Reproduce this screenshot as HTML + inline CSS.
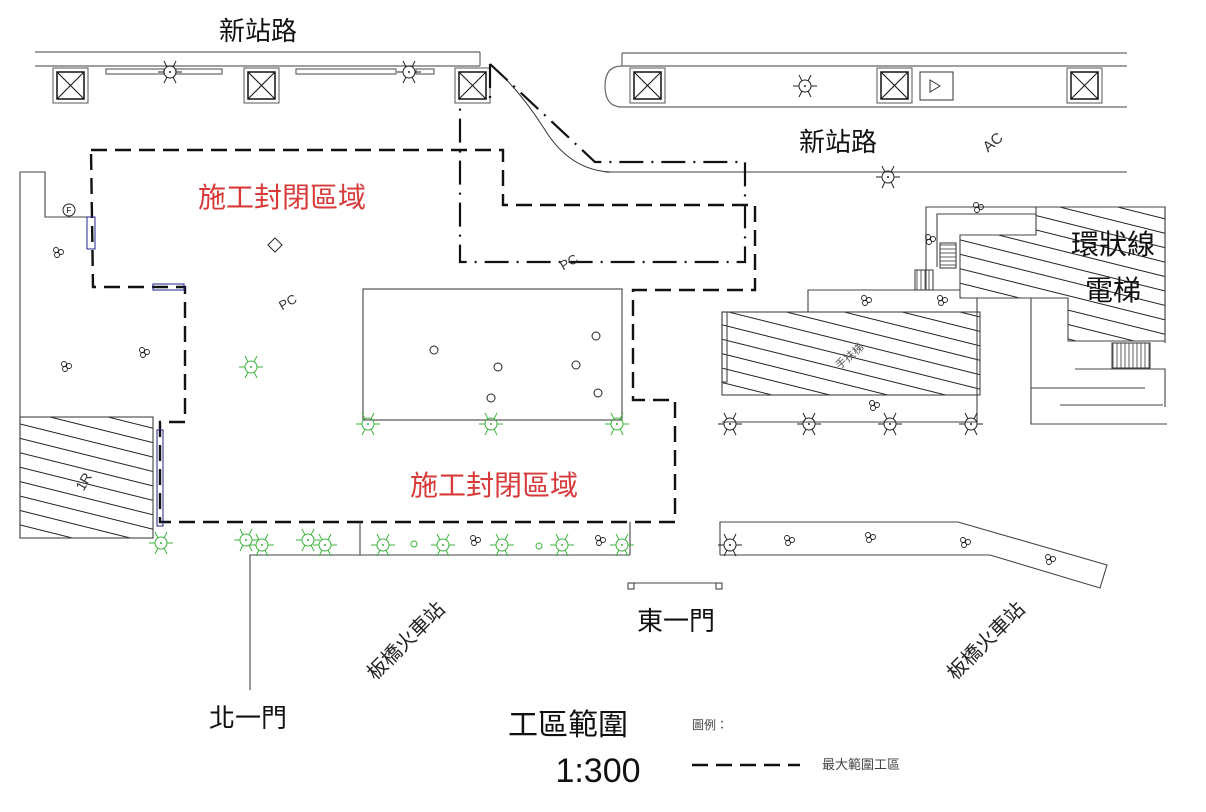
<!DOCTYPE html>
<html><head><meta charset="utf-8"><style>
html,body{margin:0;padding:0;background:#fff;}
svg{display:block;}
text{font-family:"Liberation Sans","Noto Sans CJK TC",sans-serif;}
</style></head><body>
<svg width="1206" height="812" viewBox="0 0 1206 812" xmlns="http://www.w3.org/2000/svg">
<defs>
<pattern id="h" width="14" height="14" patternUnits="userSpaceOnUse" patternTransform="rotate(14)">
<line x1="0" y1="0.5" x2="14" y2="0.5" stroke="#222" stroke-width="1"/>
</pattern>
<pattern id="vs" width="4" height="10" patternUnits="userSpaceOnUse"><line x1="1" y1="0" x2="1" y2="10" stroke="#333" stroke-width="0.8"/></pattern>
<pattern id="hs" width="10" height="4" patternUnits="userSpaceOnUse"><line x1="0" y1="1" x2="10" y2="1" stroke="#333" stroke-width="0.8"/></pattern>
<g id="lk"><circle r="6" fill="none" stroke="currentColor"/><circle r="1" fill="currentColor"/>
<g stroke="currentColor"><line x1="6" y1="0" x2="12" y2="0"/><line x1="-6" y1="0" x2="-12" y2="0"/><line x1="3" y1="-5" x2="6" y2="-11"/><line x1="-3" y1="-5" x2="-6" y2="-11"/><line x1="3" y1="5" x2="6" y2="11"/><line x1="-3" y1="5" x2="-6" y2="11"/></g></g>
<g id="box"><rect x="0" y="0" width="35" height="35" fill="none" stroke="#555"/><rect x="4" y="4" width="27" height="27" fill="none" stroke="#111" stroke-width="1.5"/><line x1="4" y1="4" x2="31" y2="31" stroke="#111"/><line x1="31" y1="4" x2="4" y2="31" stroke="#111"/></g>
<g id="oo" fill="none" stroke="#222" stroke-width="0.9"><circle cx="0" cy="0" r="2.5"/><circle cx="5" cy="2" r="2.5"/><circle cx="1" cy="5" r="2.5"/></g>
</defs>

<g stroke="#666" fill="none" stroke-width="1.2">
<line x1="35" y1="52" x2="480" y2="52"/><line x1="35" y1="66" x2="480" y2="66"/><line x1="480" y1="52" x2="480" y2="66"/>
<rect x="106" y="69" width="58" height="5"/><rect x="176" y="69" width="46" height="5"/><rect x="296" y="69" width="100" height="5"/><rect x="416" y="69" width="18" height="5"/>
<path d="M622 53 H1127 M622 66 H1127 M622 107 H1127 M622 53 V66"/>
<path d="M622 66 Q605 66 605 86 Q605 107 622 107"/>
<path d="M605 172 H1127"/>
</g>
<path d="M490 64 Q520 90 545 130 Q570 170 610 172" fill="none" stroke="#333" stroke-width="1"/>
<use href="#box" x="53" y="68"/><use href="#box" x="244" y="68"/><use href="#box" x="455" y="68"/>
<use href="#box" x="630" y="68"/><use href="#box" x="877" y="68"/><use href="#box" x="1067" y="68"/>
<rect x="920" y="72" width="33" height="28" fill="none" stroke="#333"/><path d="M930 80 L940 86 L930 92 Z" fill="none" stroke="#333"/>
<g color="#222"><use href="#lk" x="170" y="72"/><use href="#lk" x="409" y="72"/><use href="#lk" x="805" y="86"/><use href="#lk" x="888" y="177"/></g>

<path d="M490 64 V103 M490 64 L595 162 H745 V262 H460 V105" fill="none" stroke="#111" stroke-width="2.2" stroke-dasharray="24,8,2,8"/>

<path d="M91 150 H503 V205 H755 V290 H633 V400 H675 V522 H160 V422 H185 V287 H93 Z" fill="none" stroke="#111" stroke-width="2.4" stroke-dasharray="16,8"/>

<g stroke="#444" fill="none" stroke-width="1.1">
<path d="M20 538 V172 H45 V217 H93"/>
<rect x="20" y="417" width="133" height="121" fill="url(#h)"/>
<rect x="363" y="289" width="259" height="131"/>
<path d="M250 690 V555 H630 M360 522 V555 M630 522 V555"/>
<path d="M720 555 V522 H958 L1107 565 L1100 588 L990 555 H720"/>
<path d="M630 583 H720"/><rect x="628" y="583" width="6" height="6"/><rect x="716" y="583" width="6" height="6"/>
</g>
<rect x="87" y="217" width="8" height="32" fill="none" stroke="#22228a"/>
<rect x="153" y="284" width="31" height="6" fill="none" stroke="#22228a"/>
<rect x="157" y="430" width="6" height="96" fill="none" stroke="#22228a"/>
<circle cx="69" cy="210" r="6" fill="none" stroke="#222"/><text x="69" y="213" font-size="8" text-anchor="middle">F</text>
<rect x="270" y="240" width="10" height="10" fill="none" stroke="#222" transform="rotate(45 275 245)"/>

<g stroke="#444" fill="none" stroke-width="1.1">
<path d="M926 290 V207 H1165 V343"/>
<path d="M937 267 V214 H1036"/>
<polygon points="1036,207 1165,207 1165,341 1068,341 1068,298 960,298 960,235 1036,235" fill="url(#h)"/>
<rect x="722" y="312" width="258" height="83" fill="url(#h)"/>
<rect x="722" y="312" width="5" height="70"/>
<path d="M808 312 V290 H960 M977 298 V422 H722 M1031 298 V424 H1167 M1031 388 H1145 M1060 405 H1163 M1075 369 H1165 V407"/>
<rect x="940" y="243" width="16" height="25" fill="url(#hs)"/>
<rect x="915" y="270" width="18" height="20" fill="url(#vs)"/>
<rect x="1112" y="343" width="38" height="25" fill="url(#vs)"/>
</g>
<g color="#222"><use href="#lk" x="730" y="424"/><use href="#lk" x="809" y="424"/><use href="#lk" x="890" y="424"/><use href="#lk" x="971" y="424"/><use href="#lk" x="730" y="545"/></g>

<g color="#3cb43c"><use href="#lk" x="251" y="367"/><use href="#lk" x="368" y="424"/><use href="#lk" x="491" y="424"/><use href="#lk" x="617" y="424"/>
<use href="#lk" x="161" y="543"/><use href="#lk" x="246" y="540"/><use href="#lk" x="262" y="545"/><use href="#lk" x="308" y="540"/><use href="#lk" x="325" y="545"/>
<use href="#lk" x="383" y="545"/><use href="#lk" x="443" y="545"/><use href="#lk" x="502" y="545"/><use href="#lk" x="562" y="545"/><use href="#lk" x="622" y="545"/>
<circle cx="414" cy="544" r="3" fill="none" stroke="currentColor"/><circle cx="539" cy="546" r="3" fill="none" stroke="currentColor"/></g>

<g><use href="#oo" x="56" y="250"/><use href="#oo" x="64" y="364"/><use href="#oo" x="142" y="350"/><use href="#oo" x="598" y="538"/><use href="#oo" x="473" y="538"/>
<use href="#oo" x="787" y="538"/><use href="#oo" x="868" y="535"/><use href="#oo" x="963" y="540"/><use href="#oo" x="1048" y="557"/>
<use href="#oo" x="976" y="205"/><use href="#oo" x="928" y="237"/><use href="#oo" x="864" y="298"/><use href="#oo" x="940" y="298"/><use href="#oo" x="872" y="403"/></g>
<g fill="none" stroke="#222"><circle cx="434" cy="350" r="4"/><circle cx="498" cy="367" r="4"/><circle cx="576" cy="365" r="4"/><circle cx="596" cy="336" r="4"/><circle cx="491" cy="398" r="4"/><circle cx="598" cy="393" r="4"/></g>

<text x="258" y="40" font-size="26" text-anchor="middle" fill="#111">新站路</text>
<text x="838" y="151" font-size="26" text-anchor="middle" fill="#111">新站路</text>
<text x="996" y="146" font-size="15" fill="#333" transform="rotate(-40 996 146)" text-anchor="middle">AC</text>
<text x="290" y="306" font-size="13" fill="#333" transform="rotate(-30 290 306)" text-anchor="middle">PC</text>
<text x="571" y="266" font-size="13" fill="#333" transform="rotate(-30 571 266)" text-anchor="middle">PC</text>
<text x="88" y="484" font-size="14" fill="#333" transform="rotate(-60 88 484)" text-anchor="middle">1R</text>
<text x="852" y="359" font-size="11" fill="#555" transform="rotate(-40 852 359)" text-anchor="middle">手扶梯</text>
<text x="282" y="207" font-size="28" text-anchor="middle" fill="#d83a3a">施工封閉區域</text>
<text x="494" y="495" font-size="28" text-anchor="middle" fill="#d83a3a">施工封閉區域</text>
<text x="1113" y="254" font-size="28" text-anchor="middle" fill="#111">環狀線</text>
<text x="1113" y="300" font-size="28" text-anchor="middle" fill="#111">電梯</text>
<text x="405" y="648" font-size="20" text-anchor="middle" fill="#222" transform="rotate(-45 405 640)">板橋火車站</text>
<text x="985" y="648" font-size="20" text-anchor="middle" fill="#222" transform="rotate(-45 985 640)">板橋火車站</text>
<text x="676" y="630" font-size="26" text-anchor="middle" fill="#111">東一門</text>
<text x="248" y="727" font-size="26" text-anchor="middle" fill="#111">北一門</text>
<text x="568" y="735" font-size="30" text-anchor="middle" fill="#111">工區範圍</text>
<text x="598" y="782" font-size="34" text-anchor="middle" fill="#111">1:300</text>
<text x="692" y="729" font-size="12" fill="#444">圖例：</text>
<line x1="692" y1="765" x2="800" y2="765" stroke="#111" stroke-width="2.4" stroke-dasharray="16,8"/>
<text x="822" y="769" font-size="13" fill="#444">最大範圍工區</text>
</svg>
</body></html>
